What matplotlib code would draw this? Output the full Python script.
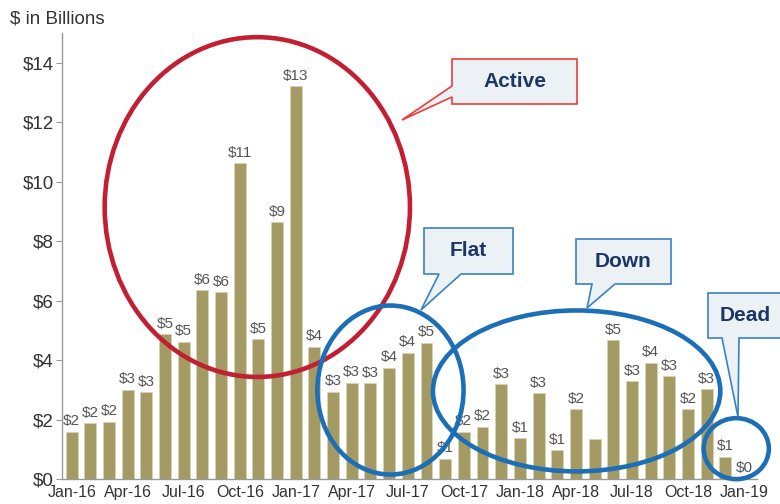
import matplotlib
matplotlib.use("Agg")
import matplotlib.pyplot as plt
from matplotlib.patches import Ellipse, Polygon

months = ["Jan-16", "Feb-16", "Mar-16", "Apr-16", "May-16", "Jun-16", "Jul-16", "Aug-16", "Sep-16",
          "Oct-16", "Nov-16", "Dec-16", "Jan-17", "Feb-17", "Mar-17", "Apr-17", "May-17", "Jun-17",
          "Jul-17", "Aug-17", "Sep-17", "Oct-17", "Nov-17", "Dec-17", "Jan-18", "Feb-18", "Mar-18",
          "Apr-18", "May-18", "Jun-18", "Jul-18", "Aug-18", "Sep-18", "Oct-18", "Nov-18", "Dec-18",
          "Jan-19"]
values = [1.60, 1.88, 1.94, 3.00, 2.92, 4.87, 4.62, 6.35, 6.28, 10.62, 4.70, 8.64, 13.21,
          4.46, 2.94, 3.25, 3.23, 3.75, 4.25, 4.58, 0.68, 1.60, 1.77, 3.19, 1.38, 2.89,
          0.98, 2.36, 1.35, 4.67, 3.29, 3.92, 3.46, 2.36, 3.03, 0.76, 0.02]
bar_labels = ["$2", "$2", "$2", "$3", "$3", "$5", "$5", "$6", "$6", "$11", "$5", "$9", "$13",
              "$4", "$3", "$3", "$3", "$4", "$4", "$5", "$1", "$2", "$2", "$3", "$1", "$3",
              "$1", "$2", "", "$5", "$3", "$4", "$3", "$2", "$3", "$1", "$0"]
yticks = [0, 2, 4, 6, 8, 10, 12, 14]

# callout outlines in reference pixels: box corners, then pointer base / tip / base
callouts = [
    ("Active", "red", [(452, 59), (577, 59), (577, 104), (452, 104), (452, 97), (402, 120), (452, 86)]),
    ("Flat", "blue", [(424, 228), (513, 228), (513, 274), (461, 274), (421, 310), (439, 274), (424, 274)]),
    ("Down", "blue", [(576, 239), (671, 239), (671, 284), (615, 284), (587, 308), (592, 284), (576, 284)]),
    ("Dead", "blue", [(708, 293), (785, 293), (785, 338), (739, 338), (738, 417), (722, 338), (708, 338)]),
]
# ellipses in data coords: (x center, y center, width, height, color)
ellipses = [
    (9.94, 9.15, 16.35, 11.42, "red"),
    (17.07, 3.0, 7.83, 5.68, "blue"),
    (27.04, 2.97, 15.39, 5.41, "blue"),
    (35.59, 1.03, 3.49, 2.05, "blue"),
]

W, H = 780, 504
font = ["Liberation Sans", "DejaVu Sans"]
bar_color = "#a39b63"
red = "#c21f32"
blue = "#1c6fb7"

fig = plt.figure(figsize=(7.8, 5.04), dpi=100)
ax = fig.add_axes([62 / W, 1 - 479.3 / H, (757 - 62) / W, (479.3 - 33) / H])

x = list(range(len(values)))
ax.bar(x, values, width=0.64, color=bar_color, edgecolor="#d8d3b2", linewidth=0.6, zorder=2)
for xi, v, lab in zip(x, values, bar_labels):
    if lab:
        ax.text(xi, v + 0.12, lab, ha="center", va="bottom", fontsize=11,
                family=font, color="#555555", zorder=3)

ax.set_xlim(-0.52, 36.7)
ax.set_ylim(0, 15)
ax.set_yticks(yticks)
ax.set_yticklabels([f"${t}" for t in yticks], family=font, fontsize=13.5, color="#333333")
ax.set_xticks(x[::3])
ax.set_xticklabels(months[::3], family=font, fontsize=11.5, color="#333333")
ax.tick_params(axis="x", length=0, pad=4)
ax.tick_params(axis="y", length=4, color="#999999", pad=2)
for s in ["top", "right"]:
    ax.spines[s].set_visible(False)
for s in ["left", "bottom"]:
    ax.spines[s].set_color("#999999")
    ax.spines[s].set_linewidth(1)

fig.text(10 / W, 1 - 19 / H, "$ in Billions", family=font, fontsize=13.5, color="#333333",
         ha="left", va="center")

for cx, cy, w, h, c in ellipses:
    col = red if c == "red" else blue
    ax.add_patch(Ellipse((cx, cy), w, h, fill=False, edgecolor=col, linewidth=3.3,
                         clip_on=False, zorder=4))


def px(p):
    return (p[0] / W, 1 - p[1] / H)


for text, c, pts in callouts:
    edge = "#ee3b3b" if c == "red" else "#3683c4"
    poly = Polygon([px(p) for p in pts], closed=True, transform=fig.transFigure,
                   facecolor="#ecf1f6", edgecolor=edge, linewidth=1.2, zorder=5)
    fig.add_artist(poly)
    cx = (pts[0][0] + pts[1][0]) / 2
    cy = (pts[0][1] + pts[2][1]) / 2
    if text == "Dead":
        cx = 745
    fig.text(cx / W, 1 - cy / H, text, ha="center", va="center", fontsize=15,
             fontweight="bold", family=font, color="#1c3666", zorder=6)

fig.savefig("out.png", dpi=100)
